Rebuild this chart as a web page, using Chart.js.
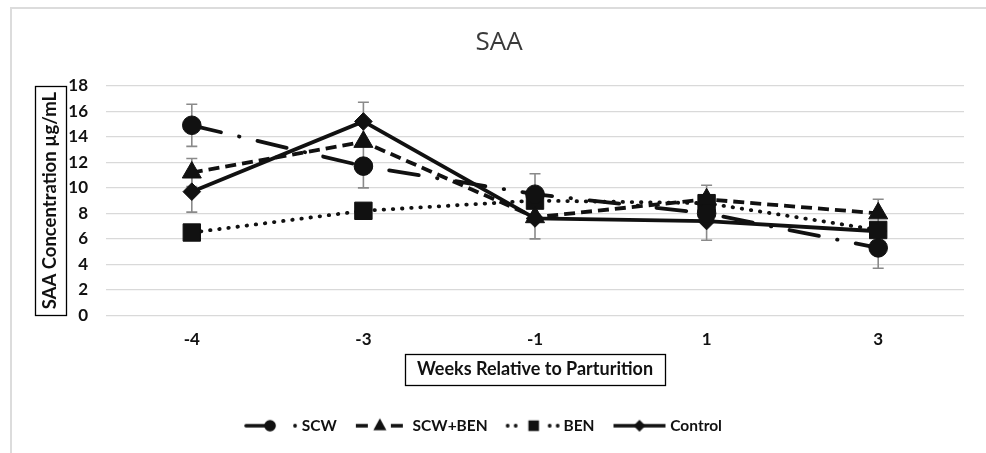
<!DOCTYPE html>
<html>
<head>
<meta charset="utf-8">
<script src="https://cdn.jsdelivr.net/npm/chart.js@4.4.0/dist/chart.umd.min.js"></script>
<style>
html,body{margin:0;padding:0;background:#fff;}
#wrap{position:relative;width:986px;height:453px;}
</style>
</head>
<body>
<div id="wrap"><canvas id="c" width="986" height="453"></canvas></div>
<script>
// ---- data ----
const categories = ['-4', '-3', '-1', '1', '3'];
const seriesNames = ['SCW', 'SCW+BEN', 'BEN', 'Control'];
const scwValues = [14.9, 11.7, 9.5, 8.0, 5.3];
const scwBenValues = [11.2, 13.6, 7.7, 9.1, 8.0];
const benValues = [6.5, 8.2, 9.0, 8.8, 6.7];
const controlValues = [9.7, 15.2, 7.6, 7.4, 6.6];
const scwErrors = [1.65, 1.7, 1.6, null, 1.6];
const scwBenErrors = [1.1, null, null, 1.1, 1.1];
const benErrors = [null, null, null, null, null];
const controlErrors = [1.6, 1.5, 1.6, 1.5, null];
const yTickValues = [0, 2, 4, 6, 8, 10, 12, 14, 16, 18];
const chartTitle = 'SAA';
const yTitle = 'SAA Concentration µg/mL';
const xTitle = 'Weeks Relative to Parturition';

const INK = '#111111';
const allErrors = [scwErrors, scwBenErrors, benErrors, controlErrors];

// ---- legend sample images ----
function marker(g, style, x, y, r) {
  g.beginPath();
  if (style === 'circle') { g.arc(x, y, r, 0, Math.PI * 2); }
  else if (style === 'triangle') { g.moveTo(x, y - r); g.lineTo(x + r * 0.87, y + r * 0.6); g.lineTo(x - r * 0.87, y + r * 0.6); g.closePath(); }
  else if (style === 'rect') { g.rect(x - r, y - r, 2 * r, 2 * r); }
  else if (style === 'rectRot') { g.moveTo(x, y - r); g.lineTo(x + r, y); g.lineTo(x, y + r); g.lineTo(x - r, y); g.closePath(); }
  g.fill();
}
function seg(g, x1, x2, cap) {
  g.lineCap = cap; g.beginPath(); g.moveTo(x1, 10); g.lineTo(x2, 10); g.stroke();
}
function legendImage(kind) {
  const c = document.createElement('canvas');
  c.width = 58; c.height = 20;
  const g = c.getContext('2d');
  g.strokeStyle = INK; g.fillStyle = INK; g.lineWidth = 3.6;
  if (kind === 0) { seg(g, 3, 28, 'round'); marker(g, 'circle', 27, 10, 5.8); marker(g, 'circle', 52, 10, 1.9); }
  else if (kind === 1) { seg(g, 2, 14, 'butt'); seg(g, 37, 49, 'butt'); marker(g, 'triangle', 26, 10, 7.5); }
  else if (kind === 2) { [3, 11, 45, 53].forEach(d => marker(g, 'circle', d, 10, 1.9)); marker(g, 'rect', 29, 10, 5.3); }
  else { seg(g, 2, 54, 'butt'); marker(g, 'rectRot', 28, 10, 6); }
  return c;
}
const legendImages = [0, 1, 2, 3].map(legendImage);

// ---- plugins ----
const framePlugin = {
  id: 'frame',
  afterLayout(chart) {
    // nudge title and legend blocks to match the reference centring
    if (chart.titleBlock) { chart.titleBlock.left += 4; chart.titleBlock.right += 4; }
    if (chart.legend) { chart.legend.left -= 9; chart.legend.right -= 9; }
  },
  beforeDraw(chart) {
    const ctx = chart.ctx;
    ctx.save();
    ctx.fillStyle = '#ffffff';
    ctx.fillRect(0, 0, chart.width, chart.height);
    ctx.strokeStyle = '#dcdcdc'; ctx.lineWidth = 2;
    ctx.beginPath(); ctx.moveTo(11, chart.height); ctx.lineTo(11, 8); ctx.lineTo(chart.width, 8); ctx.stroke();
    ctx.restore();
  }
};
const errorBarPlugin = {
  id: 'errorBars',
  beforeDatasetsDraw(chart) {
    const ctx = chart.ctx, xs = chart.scales.x, ys = chart.scales.y;
    ctx.save(); ctx.strokeStyle = '#8a8a8a'; ctx.lineWidth = 1.6;
    allErrors.forEach((errs, di) => {
      const vals = chart.data.datasets[di].data;
      errs.forEach((e, i) => {
        if (e == null) return;
        const px = xs.getPixelForValue(i);
        const yt = ys.getPixelForValue(vals[i] + e), yb = ys.getPixelForValue(vals[i] - e);
        ctx.beginPath();
        ctx.moveTo(px, yt); ctx.lineTo(px, yb);
        ctx.moveTo(px - 5.5, yt); ctx.lineTo(px + 5.5, yt);
        ctx.moveTo(px - 5.5, yb); ctx.lineTo(px + 5.5, yb);
        ctx.stroke();
      });
    });
    ctx.restore();
  }
};
const titleBoxPlugin = {
  id: 'titleBoxes',
  afterDraw(chart) {
    const ctx = chart.ctx;
    ctx.save(); ctx.strokeStyle = '#000'; ctx.lineWidth = 1.3;
    // y title box
    const ys = chart.scales.y, yo = ys.options.title;
    const yf = Chart.helpers.toFont(yo.font);
    ctx.font = yf.string;
    const yw = ctx.measureText(yo.text).width;
    const ycx = ys.left + yo.padding.top + yf.lineHeight / 2;
    const ycy = (ys.top + ys.bottom) / 2;
    ctx.strokeRect(Math.round(ycx - 15.5) + 0.5, Math.round(ycy - yw / 2 - 6) + 0.5, 31, Math.round(yw + 12));
    // x title box
    const xs = chart.scales.x, xo = xs.options.title;
    const xf = Chart.helpers.toFont(xo.font);
    ctx.font = xf.string;
    const xw = ctx.measureText(xo.text).width;
    const xcy = xs.bottom - xo.padding.bottom - xf.lineHeight / 2;
    const xcx = (xs.left + xs.right) / 2;
    ctx.strokeRect(Math.round(xcx - xw / 2 - 12) + 0.5, Math.round(xcy - 15.5) + 0.5, Math.round(xw + 24), 31);
    ctx.restore();
  }
};

// ---- chart ----
const baseDs = {
  borderColor: INK, backgroundColor: INK, pointBackgroundColor: INK, pointBorderColor: INK,
  borderWidth: 3.8, pointBorderWidth: 1, fill: false, tension: 0, clip: false
};
const datasets = [
  Object.assign({}, baseDs, { label: seriesNames[0], data: scwValues, borderDash: [30, 18.5, 0.5, 18.5], borderCapStyle: 'round', pointStyle: 'circle', pointRadius: 9.3 }),
  Object.assign({}, baseDs, { label: seriesNames[1], data: scwBenValues, borderDash: [11, 6], borderCapStyle: 'butt', pointStyle: 'triangle', pointRadius: 11 }),
  Object.assign({}, baseDs, { label: seriesNames[2], data: benValues, borderDash: [0.5, 8.7], borderCapStyle: 'round', pointStyle: 'rect', pointRadius: 12.3 }),
  Object.assign({}, baseDs, { label: seriesNames[3], data: controlValues, borderDash: [], borderCapStyle: 'butt', pointStyle: 'rectRot', pointRadius: 8.8 })
];

new Chart(document.getElementById('c'), {
  type: 'line',
  data: { labels: categories, datasets: datasets },
  plugins: [framePlugin, errorBarPlugin, titleBoxPlugin],
  options: {
    responsive: false,
    animation: false,
    devicePixelRatio: 1,
    layout: { padding: { left: 26, right: 22, top: 0, bottom: 9.5 } },
    plugins: {
      tooltip: { enabled: false },
      title: {
        display: true, text: chartTitle, color: '#3a3a3a',
        font: { family: 'Open Sans', size: 26, weight: 'normal', lineHeight: 1.2 },
        padding: { top: 27, bottom: 27.5 }
      },
      legend: {
        position: 'bottom',
        labels: {
          usePointStyle: true, pointStyleWidth: 44, padding: 24, color: INK,
          font: { family: 'Lato', size: 15.5, weight: 'bold' },
          generateLabels(chart) {
            return chart.data.datasets.map((ds, i) => ({
              text: ds.label, fillStyle: INK, strokeStyle: INK, lineWidth: 0,
              pointStyle: legendImages[i], hidden: false, datasetIndex: i, fontColor: INK
            }));
          }
        }
      }
    },
    scales: {
      x: {
        offset: true,
        afterFit(scale) { scale.height = 78.5; },
        grid: { display: false, drawTicks: false },
        border: { display: false },
        ticks: { color: INK, padding: 14, font: { family: 'Lato', size: 17, weight: 'bold' } },
        title: {
          display: true, text: xTitle, color: INK,
          font: { family: 'Lato', size: 18, weight: 'bold', lineHeight: 1.2 },
          padding: { top: 7, bottom: 14.2 }
        }
      },
      y: {
        min: 0, max: 18,
        afterFit(scale) { scale.width = 80; },
        afterBuildTicks(scale) { scale.ticks = yTickValues.map(v => ({ value: v })); },
        grid: { color: '#d9d9d9', lineWidth: 1.2, drawTicks: false },
        border: { display: false },
        ticks: { color: INK, padding: 18, font: { family: 'Lato', size: 17, weight: 'bold' } },
        title: {
          display: true, text: yTitle, color: INK,
          font: { family: 'Lato', size: 18.5, weight: 'bold', lineHeight: 1.2 },
          padding: { top: 13.4, bottom: 7 }
        }
      }
    }
  }
});
</script>
</body>
</html>
